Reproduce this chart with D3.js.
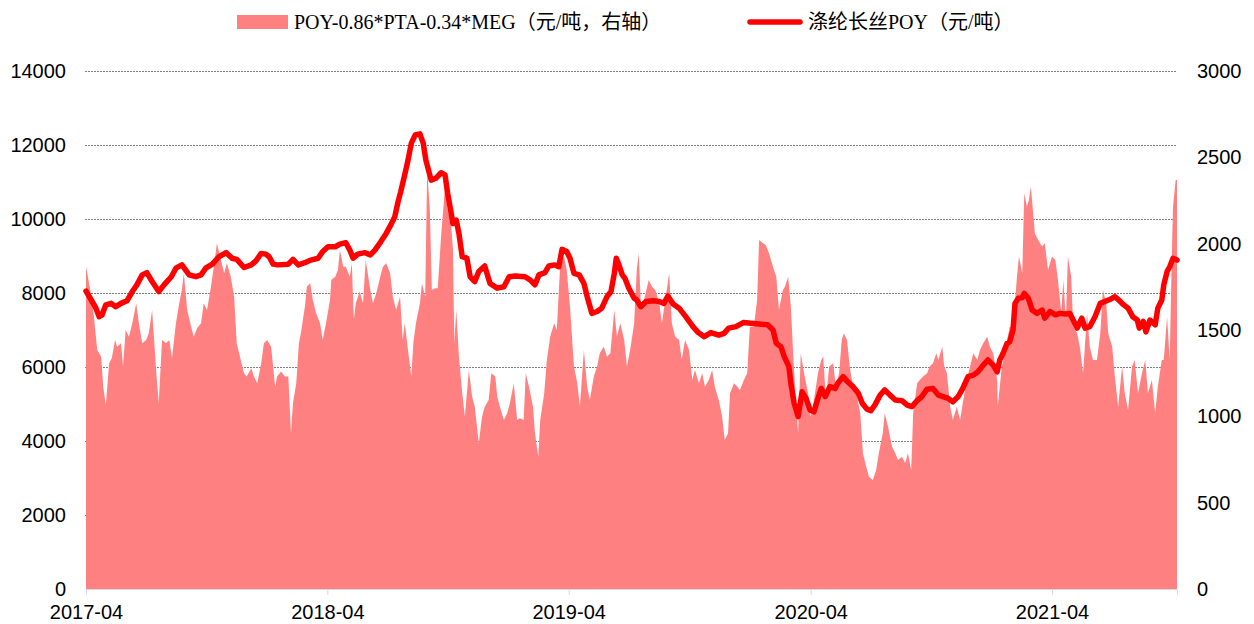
<!DOCTYPE html>
<html>
<head>
<meta charset="utf-8">
<script src="https://cdn.jsdelivr.net/npm/d3@7"></script>
<style>
  body { margin: 0; background: #fff; }
</style>
</head>
<body>
<div id="chart"></div>
<script>
/* x positions are days counted from the first date */
const startDate = new Date(2017, 3, 1);
const xTickLabels = ["2017-04", "2018-04", "2019-04", "2020-04", "2021-04"];
const leftTicks = [0, 2000, 4000, 6000, 8000, 10000, 12000, 14000];
const rightTicks = [0, 500, 1000, 1500, 2000, 2500, 3000];
const seriesNames = ["POY-0.86*PTA-0.34*MEG（元/吨，右轴）", "涤纶长丝POY（元/吨）"];

/* 涤纶长丝POY, left axis */
const poyDays = [0,8,15,20,24,30,38,45,53,62,70,77,85,92,100,110,118,129,136,145,
  156,166,174,181,191,201,212,221,228,239,250,257,265,272,277,283,290,306,313,321,
  331,340,351,358,366,377,384,393,399,404,411,422,430,437,446,454,461,467,472,476,
  482,487,492,498,505,510,514,522,529,537,543,547,555,560,564,569,576,581,588,594,
  603,611,622,632,640,649,664,672,679,685,694,700,709,715,720,727,732,738,746,753,
  758,765,773,780,788,794,799,802,806,811,815,821,829,833,839,847,858,867,874,880,
  888,897,907,918,926,935,945,957,965,972,983,994,1006,1018,1031,1039,1044,1051,1056,1063,
  1066,1071,1077,1083,1089,1095,1101,1107,1112,1118,1125,1133,1137,1145,1152,1160,1168,1174,1181,1187,
  1193,1201,1208,1216,1224,1234,1242,1249,1257,1264,1272,1281,1289,1296,1304,1311,1319,1326,1334,1342,
  1349,1357,1364,1372,1378,1382,1387,1393,1397,1402,1405,1410,1416,1419,1425,1431,1438,1446,1450,1458,
  1466,1473,1481,1488,1493,1499,1506,1511,1518,1526,1534,1541,1549,1556,1562,1568,1576,1583,1590,1593,
  1599,1603,1609,1617,1621,1627,1630,1635,1639,1644,1650];
const poyValues = [8050,7810,7590,7360,7400,7680,7720,7630,7720,7790,8040,8220,8490,8550,8310,8040,8220,8440,8670,8760,
  8490,8440,8490,8670,8780,8980,9090,8940,8910,8690,8760,8870,9070,9050,8980,8780,8760,8780,8910,8760,
  8820,8890,8940,9120,9250,9250,9320,9360,9160,8940,9050,9090,9030,9160,9390,9610,9840,10060,10470,10740,
  11190,11590,12050,12270,12300,12050,11590,11050,11100,11250,11190,10690,9880,9970,9610,8980,8940,8440,8310,8580,
  8730,8260,8130,8170,8440,8460,8440,8350,8220,8490,8550,8730,8760,8710,9180,9120,8940,8530,8490,8260,
  7900,7450,7500,7590,7900,8040,8530,8940,8760,8490,8400,8130,7860,7810,7630,7770,7790,7770,7720,7920,
  7700,7590,7360,7090,6930,6820,6930,6860,6910,7050,7090,7200,7180,7160,7140,7000,6640,6550,6280,6010,
  5560,5020,4660,5330,5150,4840,4790,5150,5420,5200,5470,5420,5560,5740,5600,5470,5290,5020,4860,4820,
  4970,5240,5380,5240,5110,5090,4970,4930,5090,5200,5400,5420,5240,5200,5150,5060,5200,5420,5740,5780,
  5870,6050,6190,6050,5870,6190,6370,6640,6680,7000,7720,7860,7880,7990,7860,7540,7450,7540,7320,7500,
  7410,7450,7430,7450,7270,7050,7320,7050,7090,7360,7720,7770,7830,7900,7810,7700,7590,7360,7270,7050,
  7230,6950,7270,7140,7590,7810,8220,8580,8710,8940,8890];

/* POY-0.86*PTA-0.34*MEG spread, right axis */
const spreadDays = [0,2,8,12,17,23,26,30,35,39,44,47,53,56,60,65,70,76,80,85,
  91,95,100,106,110,115,121,126,130,136,141,145,148,153,159,163,168,174,178,183,
  189,194,198,204,209,213,219,224,228,234,239,243,250,254,259,265,269,274,280,286,
  289,295,301,306,310,313,318,322,325,331,334,339,343,348,354,358,363,369,371,377,
  381,384,389,393,399,402,405,408,414,419,423,430,434,439,445,449,454,460,464,469,
  475,479,482,487,492,495,499,505,508,513,516,520,523,528,532,537,543,547,552,555,
  557,560,564,569,573,579,584,588,594,599,603,609,613,619,622,626,632,637,641,647,
  652,656,662,665,670,676,679,684,687,693,697,702,708,712,717,723,727,732,738,743,
  747,753,758,762,768,773,777,783,788,793,799,803,808,814,818,823,829,833,836,839,
  844,851,856,861,867,871,876,882,886,891,897,901,906,912,917,921,927,932,936,942,
  947,951,957,962,966,971,974,980,985,989,995,1000,1004,1010,1015,1018,1024,1028,1033,1039,
  1044,1048,1054,1057,1062,1066,1071,1077,1081,1086,1092,1096,1101,1107,1112,1115,1119,1124,1130,1134,
  1139,1143,1146,1151,1155,1160,1166,1171,1175,1180,1184,1190,1195,1199,1205,1208,1213,1219,1224,1228,
  1234,1239,1243,1248,1251,1257,1261,1266,1272,1276,1281,1286,1289,1295,1298,1302,1307,1311,1317,1322,
  1326,1332,1337,1342,1348,1352,1357,1363,1367,1372,1378,1379,1385,1390,1393,1397,1402,1408,1411,1416,
  1419,1423,1426,1429,1432,1435,1440,1446,1450,1455,1461,1466,1470,1475,1478,1482,1485,1490,1493,1499,
  1503,1508,1514,1518,1523,1529,1534,1538,1543,1546,1552,1556,1561,1567,1571,1576,1582,1586,1591,1597,
  1602,1606,1612,1617,1621,1627,1630,1635,1639,1642,1644,1648,1650];
const spreadValues = [1867,1829,1693,1577,1384,1345,1172,1066,1307,1336,1442,1403,1423,1288,1500,1461,1539,1655,1539,1423,
  1442,1481,1616,1268,1076,1442,1423,1442,1336,1539,1655,1732,1829,1616,1519,1461,1510,1539,1655,1616,
  1751,1886,2002,1906,1829,1886,1809,1693,1423,1326,1249,1230,1278,1230,1191,1307,1423,1442,1403,1172,
  1230,1259,1230,1230,902,1076,1191,1423,1481,1635,1751,1771,1674,1597,1539,1442,1539,1674,1790,1809,
  1848,1964,1867,1867,1809,1886,1558,1655,1723,1655,1906,1732,1655,1713,1809,1867,1886,1829,1693,1616,
  1693,1442,1539,1384,1230,1423,1539,1655,1771,1693,2427,2195,1732,1742,1742,2041,2330,2195,2118,1964,
  1423,1616,1345,1133,998,1268,1114,1056,844,998,1056,1095,1249,1230,1114,1056,979,1018,1076,1191,
  979,989,979,1249,1172,1056,902,766,979,1133,1326,1461,1539,1500,1867,1925,1848,1635,1288,1191,
  1056,1384,1172,1095,1230,1288,1365,1403,1345,1365,1616,1461,1539,1442,1288,1384,1539,1848,1944,1655,
  1674,1790,1751,1732,1655,1539,1674,1829,1539,1461,1442,1326,1442,1384,1210,1268,1191,1249,1172,1210,
  1268,1172,1095,1000,863,902,1133,1191,1172,1153,1210,1249,1519,1519,1674,2021,2002,1992,1944,1867,
  1809,1616,1732,1751,1809,1635,1249,902,1365,1249,1133,998,1095,1249,1326,1346,1095,1288,1307,1172,
  1249,1442,1481,1442,1288,1172,1114,1018,786,708,650,631,689,786,902,1018,940,824,786,747,
  766,728,786,689,1018,1191,1210,1230,1249,1288,1307,1365,1326,1403,1288,1249,1056,979,1056,979,
  1076,1210,1288,1365,1326,1384,1423,1461,1403,1365,1210,1056,1288,1365,1442,1519,1519,1809,1925,1829,
  2292,2214,2253,2330,2195,2060,2021,1983,2002,1848,1925,1906,1790,1597,1790,1558,1925,1809,1519,1481,
  1403,1249,1597,1403,1326,1326,1481,1732,1655,1481,1403,1230,1056,1288,1133,1037,1288,1326,1133,1249,
  1326,1133,1210,1018,1172,1326,1326,1577,1326,1906,2214,2369,2369];

const width = 1254, height = 624;
const plot = { left: 86, right: 1177, top: 71, bottom: 589 };

const svg = d3.select("#chart")
  .append("svg")
  .attr("width", width)
  .attr("height", height)
  .style("font-family", "'Liberation Sans', Arial, sans-serif");

const parseMonth = d3.timeParse("%Y-%m");
const endDate = d3.timeDay.offset(startDate, d3.max(spreadDays));

const x = d3.scaleTime().domain([startDate, endDate]).range([plot.left, plot.right]);
const yLeft = d3.scaleLinear().domain([0, 14000]).range([plot.bottom, plot.top]);
const yRight = d3.scaleLinear().domain([0, 3000]).range([plot.bottom, plot.top]);

const poy = poyDays.map((d, i) => ({ date: d3.timeDay.offset(startDate, d), value: poyValues[i] }));
const spread = spreadDays.map((d, i) => ({ date: d3.timeDay.offset(startDate, d), value: spreadValues[i] }));

/* dotted gridlines, behind everything */
svg.append("g")
  .attr("class", "grid")
  .selectAll("line")
  .data(leftTicks.filter(t => t > 0))
  .enter().append("line")
    .attr("x1", plot.left - 1)
    .attr("x2", plot.right)
    .attr("y1", d => Math.round(yLeft(d)) + 0.5)
    .attr("y2", d => Math.round(yLeft(d)) + 0.5)
    .attr("stroke", "#7f7f7f")
    .attr("stroke-width", 1)
    .attr("stroke-dasharray", "2,1");

/* spread area on right axis */
svg.append("path")
  .datum(spread)
  .attr("fill", "#ff8080")
  .attr("d", d3.area()
    .x(d => x(d.date))
    .y0(yRight(0))
    .y1(d => yRight(d.value)));

/* axes */
const xAxis = svg.append("g")
  .attr("transform", `translate(0,${plot.bottom})`)
  .call(d3.axisBottom(x)
    .tickValues(xTickLabels.map(parseMonth))
    .tickFormat(d3.timeFormat("%Y-%m"))
    .tickSize(6)
    .tickPadding(10));
xAxis.select(".domain").attr("stroke", "#d9d9d9");
xAxis.selectAll(".tick line").attr("stroke", "#d9d9d9");

const leftAxis = svg.append("g")
  .attr("transform", `translate(${plot.left},0)`)
  .call(d3.axisLeft(yLeft).tickValues(leftTicks).tickFormat(d3.format("d")).tickSize(0).tickPadding(20));
leftAxis.select(".domain").remove();

const rightAxis = svg.append("g")
  .attr("transform", `translate(${plot.right},0)`)
  .call(d3.axisRight(yRight).tickValues(rightTicks).tickFormat(d3.format("d")).tickSize(0).tickPadding(20));
rightAxis.select(".domain").remove();

svg.selectAll(".tick text")
  .attr("font-family", "'Liberation Sans', Arial, sans-serif")
  .attr("font-size", 20)
  .attr("fill", "#000");

/* POY price line on left axis */
svg.append("path")
  .datum(poy)
  .attr("fill", "none")
  .attr("stroke", "#ff0000")
  .attr("stroke-width", 5.5)
  .attr("stroke-linejoin", "round")
  .attr("stroke-linecap", "round")
  .attr("d", d3.line()
    .x(d => x(d.date))
    .y(d => yLeft(d.value)));

/* legend */
const legend = svg.append("g").attr("class", "legend")
  .style("font-family", "'Liberation Serif', 'Times New Roman', 'Noto Sans CJK SC', serif")
  .style("font-size", "20px");

legend.append("rect")
  .attr("x", 237).attr("y", 15)
  .attr("width", 51).attr("height", 14)
  .attr("fill", "#ff8080");
legend.append("text")
  .attr("x", 294).attr("y", 22)
  .attr("dominant-baseline", "central")
  .text(seriesNames[0]);

legend.append("line")
  .attr("x1", 750).attr("x2", 800)
  .attr("y1", 22).attr("y2", 22)
  .attr("stroke", "#ff0000")
  .attr("stroke-width", 5.5)
  .attr("stroke-linecap", "round");
legend.append("text")
  .attr("x", 808).attr("y", 22)
  .attr("dominant-baseline", "central")
  .text(seriesNames[1]);
</script>
</body>
</html>
